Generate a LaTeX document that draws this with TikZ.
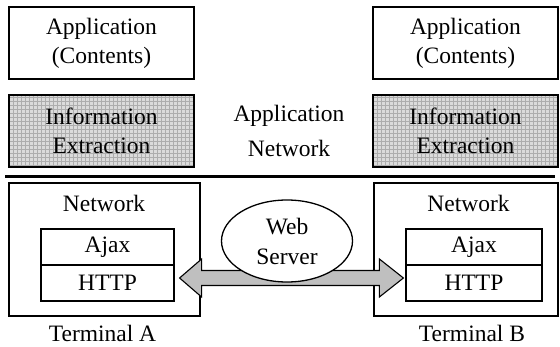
\documentclass[tikz,border=0pt]{standalone}
\usepackage{fontspec}
\setmainfont{Liberation Serif}
\usetikzlibrary{calc,shapes.geometric}
\begin{document}
\begin{tikzpicture}[x=1pt,y=-1pt,
  txt/.style={font=\fontsize{23.5}{29}\selectfont, align=center, inner sep=0pt},
  box/.style={txt, draw=black, line width=1.4pt, fill=white},
  infobox/.style={box, fill=black!14,
    path picture={\draw[black!32,line width=0.35pt] (path picture bounding box.south west) grid[step=4pt] (path picture bounding box.north east);}},
  layer/.style={box, line width=1.2pt, minimum width=133pt, minimum height=36pt},
  bigarrow/.style={draw=black, line width=1.1pt, fill=black!25, line join=miter}
]
\useasboundingbox (0,0) rectangle (560,347);

% upper layer
\node[box, minimum width=185pt, minimum height=72pt] (appA) at (101.5,43) {Application\\(Contents)};
\node[box, minimum width=185pt, minimum height=72pt] (appB) at (465.5,43) {Application\\(Contents)};
\node[infobox, minimum width=185pt, minimum height=72pt] (infoA) at (101.5,131) {Information\\Extraction};
\node[infobox, minimum width=185pt, minimum height=72pt] (infoB) at (465.5,131) {Information\\Extraction};
\node[txt, font=\fontsize{23.5}{35}\selectfont] (appnet) at (289,131) {Application\\Network};

% separator
\coordinate (sepL) at (5,176.5);
\coordinate (sepR) at (555,176.5);
\draw[line width=3.5pt] (sepL) -- (sepR);

% terminals
\node[box, minimum width=191pt, minimum height=133pt] (termA) at (104.5,249.5) {};
\node[box, minimum width=184pt, minimum height=133pt] (termB) at (466,249.5) {};
\node[txt] (netA) at (104,203) {Network};
\node[txt] (netB) at (468.5,203) {Network};
\node[layer] (ajaxA) at (107.5,247) {Ajax};
\node[layer] (httpA) at (107.5,283) {HTTP};
\node[layer, minimum width=136pt] (ajaxB) at (474,247) {Ajax};
\node[layer, minimum width=136pt] (httpB) at (474,283) {HTTP};
\node[txt] (labA) at (102.5,333) {Terminal A};
\node[txt] (labB) at (472,333) {Terminal B};

% double arrow
\coordinate (tipA) at ($(httpA.east)+(5,-5)$);
\coordinate (tipB) at ($(httpB.west)+(-2,-5)$);
\draw[bigarrow] (tipA) -- ++(22,-19) -- ++(0,11.5) -- ($(tipB)+(-24,-7.5)$) -- ++(0,-11.5)
  -- (tipB) -- ($(tipB)+(-24,19)$) -- ++(0,-11.5) -- ($(tipA)+(22,7.5)$) -- ++(0,11.5) -- cycle;

% web server
\node[txt, draw=black, line width=1.3pt, fill=white, ellipse, minimum width=131pt, minimum height=82pt, inner sep=0pt, font=\fontsize{23.5}{30}\selectfont] (web) at (287,241) {Web\\Server};
\end{tikzpicture}
\end{document}
